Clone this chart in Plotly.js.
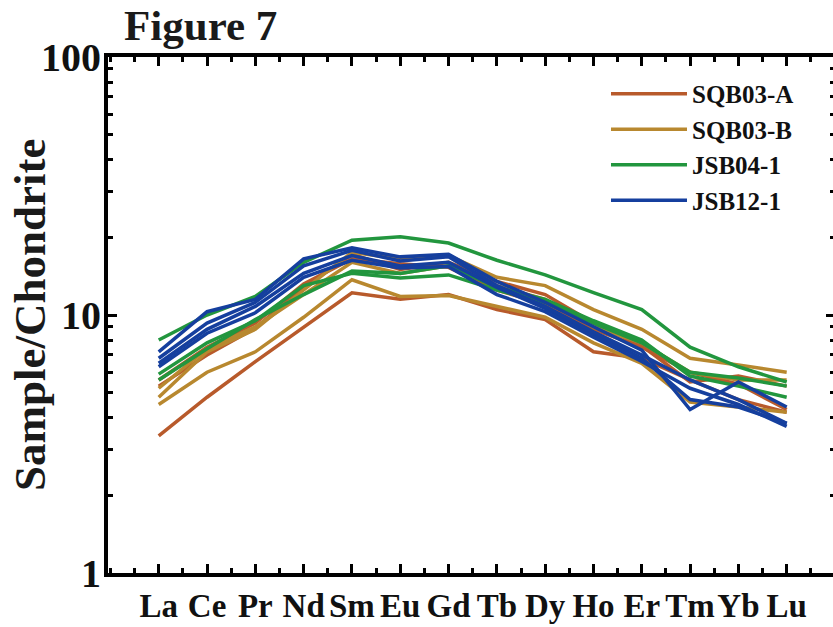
<!DOCTYPE html>
<html>
<head>
<meta charset="utf-8">
<script src="https://cdn.plot.ly/plotly-3.0.1.min.js"></script>
<style>
html,body{margin:0;padding:0;overflow:hidden;background:#fff;}
#chart{width:843px;height:627px;}
</style>
</head>
<body>
<div id="chart"></div>
<script>
const elements = ["La","Ce","Pr","Nd","Sm","Eu","Gd","Tb","Dy","Ho","Er","Tm","Yb","Lu"];
const yTickVals = [1, 10, 100];
const yTickText = ["1", "10", "100"];

const groupNames = ["SQB03-A", "SQB03-B", "JSB04-1", "JSB12-1"];
const groupColors = ["#B85A2B", "#B8882F", "#22963E", "#153F9E"];

const sqb03A = [
  [3.4, 4.8, 6.6, 9.0, 12.2, 11.5, 12.0, 10.5, 9.6, 7.2, 6.8, 5.6, 4.7, 4.2],
  [5.3, 7.0, 8.9, 12.8, 17.2, 15.0, 16.0, 13.5, 12.0, 9.3, 7.6, 5.5, 5.8, 5.3],
  [5.6, 7.5, 9.3, 13.2, 16.5, 15.8, 15.3, 12.5, 11.0, 8.8, 7.5, 6.0, 5.4, 4.3]
];
const sqb03B = [
  [4.5, 6.0, 7.2, 9.8, 13.7, 11.8, 11.9, 10.8, 9.8, 7.8, 6.5, 4.6, 4.4, 4.2],
  [4.8, 7.2, 8.8, 12.5, 17.5, 16.5, 17.0, 14.0, 13.0, 10.5, 8.8, 6.8, 6.4, 6.0],
  [5.2, 7.4, 9.0, 12.0, 16.0, 14.5, 15.5, 13.0, 11.5, 9.0, 7.8, 6.0, 5.6, 5.6]
];
const jsb04 = [
  [8.0, 10.0, 11.8, 16.0, 19.5, 20.1, 19.0, 16.3, 14.3, 12.2, 10.5, 7.5, 6.3, 5.5],
  [5.9, 7.8, 9.5, 13.0, 14.5, 13.9, 14.3, 12.5, 11.2, 9.3, 7.8, 6.0, 5.7, 5.3],
  [5.6, 7.4, 9.6, 12.0, 14.8, 14.5, 15.5, 12.8, 11.5, 9.5, 8.0, 5.8, 5.3, 4.8]
];
const jsb12 = [
  [7.2, 10.3, 11.5, 16.5, 18.2, 16.8, 17.2, 13.5, 11.2, 9.0, 7.3, 4.3, 5.5, 4.4],
  [6.5, 8.8, 10.8, 14.5, 17.0, 15.5, 16.0, 12.8, 10.6, 8.4, 6.8, 4.7, 4.4, 3.8],
  [6.3, 8.5, 10.2, 14.0, 16.3, 15.2, 15.4, 12.0, 10.3, 8.2, 6.6, 5.2, 4.5, 3.7],
  [6.8, 9.3, 11.2, 15.5, 17.8, 16.2, 16.8, 13.0, 10.8, 8.6, 7.0, 5.6, 4.7, 3.8]
];

const groups = [sqb03A, sqb03B, jsb04, jsb12];
const xIdx = elements.map((_, i) => i);
const serif = "Liberation Serif, Times New Roman, serif";

const traces = [];
groups.forEach((g, gi) => {
  g.forEach((vals, si) => {
    traces.push({
      type: "scatter", mode: "lines",
      x: xIdx, y: vals,
      name: groupNames[gi],
      legendgroup: groupNames[gi],
      showlegend: si === 0,
      line: {color: groupColors[gi], width: 3.5},
      hoverinfo: "skip"
    });
  });
});

const axisCommon = {
  showline: true, linewidth: 4, linecolor: "#000", mirror: "ticks",
  ticks: "inside", ticklen: 9, tickwidth: 3, tickcolor: "#000",
  showgrid: false, zeroline: false
};

const layout = {
  width: 843, height: 627,
  margin: {l: 108, r: 8, t: 57, b: 54},
  paper_bgcolor: "#fff", plot_bgcolor: "#fff",
  showlegend: true,
  title: {
    text: "Figure 7", x: 124/843, xref: "container", xanchor: "left",
    y: 1 - 25/627, yref: "container", yanchor: "middle",
    font: {family: serif, size: 43, color: "#1a1a1a", weight: "bold"}
  },
  xaxis: Object.assign({}, axisCommon, {
    range: [-1.05, 14.0],
    tickmode: "array", tickvals: xIdx, ticktext: elements,
    tickfont: {family: serif, size: 33, color: "#111", weight: "bold"},
    minor: {dtick: 0.5, tick0: 0, ticks: "inside", ticklen: 5, tickwidth: 3, tickcolor: "#000"}
  }),
  yaxis: Object.assign({}, axisCommon, {
    type: "log", range: [0, 2],
    tickmode: "array", tickvals: yTickVals, ticktext: yTickText,
    ticklabelstandoff: -5,
    tickfont: {family: serif, size: 40, color: "#111", weight: "bold"},
    minor: {dtick: "D1", ticks: "inside", ticklen: 5, tickwidth: 3, tickcolor: "#000"}
  }),
  legend: {
    x: 0.685, y: 0.973, xanchor: "left", yanchor: "top",
    bgcolor: "rgba(0,0,0,0)", borderwidth: 0,
    itemwidth: 76, tracegroupgap: 0,
    font: {family: serif, size: 25, color: "#111", weight: "bold"}
  },
  annotations: [{
    text: "Sample/Chondrite", textangle: -90,
    xref: "paper", yref: "paper",
    x: (30 - 108) / 727, y: 0.5, xanchor: "center", yanchor: "middle",
    showarrow: false,
    font: {family: serif, size: 45, color: "#1a1a1a", weight: "bold"}
  }]
};

Plotly.newPlot("chart", traces, layout, {displayModeBar: false, staticPlot: true});
</script>
</body>
</html>
